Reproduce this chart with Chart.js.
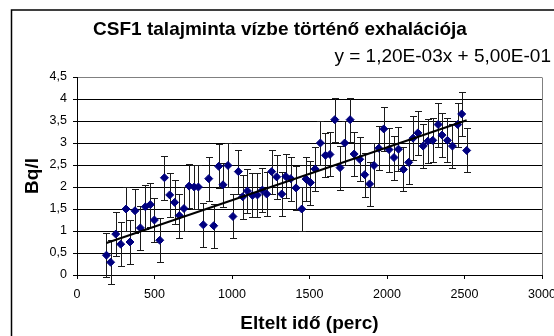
<!DOCTYPE html>
<html>

<head>
    <title>CSF1 talajminta vízbe történő exhalációja</title>
    <script src="https://cdn.jsdelivr.net/npm/chart.js@4.4.0/dist/chart.umd.min.js"></script>
    <style>
        body { margin: 0; background: #fff; }
        #wrap { width: 554px; height: 336px; }
    </style>
</head>

<body>
    <div id="wrap"><canvas id="exhalation" width="554" height="336"></canvas></div>

    <script>
        var elapsedMinutes = [190, 217, 250, 282, 316, 342, 374, 409, 441, 473, 499, 534, 564, 598, 630,
            660, 690, 723, 756, 783, 815, 850, 882, 914, 942, 974, 1006, 1041, 1069, 1099,
            1132, 1164, 1196, 1224, 1256, 1288, 1321, 1347, 1379, 1413, 1450, 1478, 1506, 1536, 1570,
            1603, 1632, 1663, 1697, 1727, 1762, 1788, 1824, 1856, 1888, 1916, 1947, 1979, 2013, 2045,
            2074, 2106, 2140, 2168, 2199, 2233, 2263, 2295, 2330, 2355, 2390, 2422, 2456, 2482, 2514];
        var activity = [0.45, 0.29, 0.93, 0.70, 1.50, 0.75, 1.46, 1.07, 1.55, 1.60, 1.25, 0.79, 2.21, 1.82, 1.65,
            1.35, 1.51, 2.02, 2.00, 2.00, 1.14, 2.19, 1.12, 2.47, 2.05, 2.49, 1.33, 2.35, 1.78, 1.91,
            1.81, 1.82, 1.93, 1.84, 2.35, 2.23, 1.84, 2.24, 2.19, 1.98, 1.50, 2.18, 2.10, 2.41, 3.00,
            2.72, 2.74, 3.53, 2.44, 3.00, 3.53, 2.75, 2.63, 2.28, 2.07, 2.49, 2.88, 3.32, 2.85, 2.67,
            2.86, 2.40, 2.56, 3.11, 3.23, 2.93, 3.04, 3.06, 3.42, 3.18, 3.06, 2.93, 3.42, 3.66, 2.83];
        var activityError = 0.5;

        // Linear trendline as printed on the chart
        var trendSlope = 1.2e-3;
        var trendIntercept = 0.5;
        var trendLabel = 'y = 1,20E-03x + 5,00E-01';

        var xTicks = [0, 500, 1000, 1500, 2000, 2500, 3000];
        var yTicks = [0, 0.5, 1, 1.5, 2, 2.5, 3, 3.5, 4, 4.5];

        var font = 'Arial, "Liberation Sans", sans-serif';

        var points = elapsedMinutes.map(function (t, i) { return { x: t, y: activity[i] }; });
        var tFirst = elapsedMinutes[0];
        var tLast = elapsedMinutes[elapsedMinutes.length - 1];
        var trend = [
            { x: tFirst, y: trendSlope * tFirst + trendIntercept },
            { x: tLast, y: trendSlope * tLast + trendIntercept }
        ];

        // outer chart frame
        var frame = {
            id: 'frame',
            beforeDraw: function (chart) {
                var c = chart.ctx;
                c.save();
                c.fillStyle = '#fff';
                c.fillRect(0, 0, chart.width, chart.height);
                c.strokeStyle = '#000';
                c.lineWidth = 1.5;
                c.strokeRect(11.5, 10, chart.width + 20, chart.height + 20);
                c.restore();
            }
        };

        // plot-area right border + vertical error bars with caps
        var errorBars = {
            id: 'errorBars',
            beforeDatasetsDraw: function (chart) {
                var c = chart.ctx;
                var a = chart.chartArea;
                var xs = chart.scales.x, ys = chart.scales.y;
                c.save();
                c.strokeStyle = '#808080';
                c.lineWidth = 1;
                c.beginPath();
                c.moveTo(Math.round(a.right) + 0.5, Math.round(a.top) + 0.5);
                c.lineTo(Math.round(a.right) + 0.5, Math.round(a.bottom));
                c.stroke();

                c.strokeStyle = '#1a1a1a';
                for (var i = 0; i < elapsedMinutes.length; i++) {
                    var px = Math.round(xs.getPixelForValue(elapsedMinutes[i])) + 0.5;
                    var top = Math.round(ys.getPixelForValue(activity[i] + activityError)) + 0.5;
                    var bot = Math.round(ys.getPixelForValue(activity[i] - activityError)) + 0.5;
                    c.beginPath();
                    c.moveTo(px, top); c.lineTo(px, bot);
                    c.moveTo(px - 3.5, top); c.lineTo(px + 3.5, top);
                    c.moveTo(px - 3.5, bot); c.lineTo(px + 3.5, bot);
                    c.stroke();
                }
                c.restore();
            }
        };

        var ctx = document.getElementById('exhalation').getContext('2d');
        var chart = new Chart(ctx, {
            type: 'scatter',
            data: {
                datasets: [{
                    type: 'line',
                    label: 'Trend',
                    data: trend,
                    borderColor: '#000',
                    borderWidth: 2,
                    pointRadius: 0,
                    fill: false
                }, {
                    label: 'CSF1',
                    data: points,
                    pointStyle: 'rectRot',
                    pointRadius: 4,
                    backgroundColor: '#000080',
                    borderColor: '#000080',
                    borderWidth: 1
                }]
            },
            options: {
                responsive: false,
                animation: false,
                layout: { padding: { left: 9, right: 3, top: 0, bottom: 0 } },
                plugins: {
                    legend: { display: false },
                    tooltip: { enabled: false },
                    title: {
                        display: true,
                        text: 'CSF1 talajminta vízbe történő exhalációja',
                        color: '#000',
                        font: { family: font, size: 19, weight: 'bold' },
                        padding: { top: 18.6, bottom: 3.7 }
                    },
                    subtitle: {
                        display: true,
                        text: trendLabel,
                        align: 'end',
                        color: '#000',
                        font: { family: font, size: 19 },
                        padding: { top: 0, bottom: 9.1 }
                    }
                },
                scales: {
                    x: {
                        type: 'linear',
                        min: xTicks[0],
                        max: xTicks[xTicks.length - 1],
                        afterBuildTicks: function (s) { s.ticks = xTicks.map(function (v) { return { value: v }; }); },
                        afterFit: function (s) { s.height = 61; s.paddingRight = 12; s.paddingLeft = 0; },
                        ticks: {
                            color: '#000',
                            font: { family: font, size: 12.5 },
                            padding: 8,
                            maxRotation: 0,
                            callback: function (v) { return String(v); }
                        },
                        grid: {
                            drawOnChartArea: false,
                            tickColor: '#000',
                            tickLength: 4
                        },
                        border: { color: '#000', width: 1 },
                        title: {
                            display: true,
                            text: 'Eltelt idő (perc)',
                            color: '#000',
                            font: { family: font, size: 19, weight: 'bold' },
                            padding: { top: 0, bottom: 1 }
                        }
                    },
                    y: {
                        min: yTicks[0],
                        max: yTicks[yTicks.length - 1],
                        afterBuildTicks: function (s) { s.ticks = yTicks.map(function (v) { return { value: v }; }); },
                        afterFit: function (s) { s.width = 68; },
                        ticks: {
                            color: '#000',
                            font: { family: font, size: 12.5 },
                            padding: 6,
                            callback: function (v) { return String(v).replace('.', ','); }
                        },
                        grid: {
                            color: function (c) { return c.tick && c.tick.value === 4.5 ? '#808080' : '#000'; },
                            tickColor: '#000',
                            tickLength: 4
                        },
                        border: { color: '#000', width: 1 },
                        title: {
                            display: true,
                            text: 'Bq/l',
                            color: '#000',
                            font: { family: font, size: 19, weight: 'bold' },
                            padding: { top: 12, bottom: 0 }
                        }
                    }
                }
            },
            plugins: [frame, errorBars]
        });
    </script>
</body>

</html>
